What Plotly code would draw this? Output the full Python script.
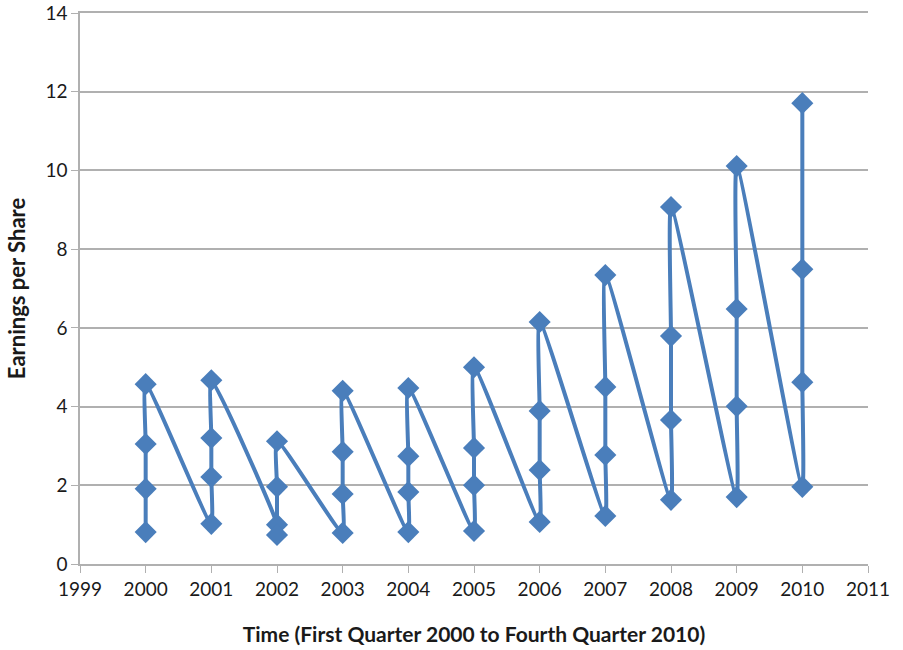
import plotly.graph_objects as go

years = [2000, 2001, 2002, 2003, 2004, 2005, 2006, 2007, 2008, 2009, 2010]
q1 = [0.81, 1.02, 1.00, 0.79, 0.81, 0.84, 1.07, 1.22, 1.63, 1.70, 1.96]
q2 = [1.91, 2.21, 0.74, 1.78, 1.83, 2.00, 2.39, 2.77, 3.66, 4.01, 4.62]
q3 = [3.05, 3.20, 1.96, 2.85, 2.74, 2.95, 3.89, 4.50, 5.79, 6.48, 7.49]
q4 = [4.57, 4.67, 3.12, 4.40, 4.47, 5.00, 6.15, 7.34, 9.07, 10.11, 11.71]

x_tick_vals = list(range(1999, 2012))
y_tick_vals = list(range(0, 15, 2))

xs, ys = [], []
for i, yr in enumerate(years):
    for v in (q1[i], q2[i], q3[i], q4[i]):
        xs.append(yr)
        ys.append(v)

blue = "#4a7ebb"
grid = "#b0b0b0"
fig = go.Figure()
fig.add_trace(go.Scatter(
    x=xs, y=ys, mode="lines+markers",
    line=dict(color=blue, width=4, shape="spline", smoothing=0.5),
    marker=dict(symbol="diamond", size=17, color=blue),
    showlegend=False, cliponaxis=False,
))

font_family = "Lato, 'Open Sans', sans-serif"
fig.update_layout(
    width=903, height=650,
    margin=dict(l=80, r=35, t=13, b=86),
    paper_bgcolor="white", plot_bgcolor="white",
    font=dict(family=font_family, size=19, color="#1a1a1a"),
    xaxis=dict(
        range=[1999, 2011], tickvals=x_tick_vals, ticktext=[str(v) for v in x_tick_vals],
        showgrid=False, showline=True, linecolor=grid, linewidth=1.5, mirror=True,
        ticks="outside", ticklen=7, tickcolor=grid,
        tickfont=dict(size=19),
        title=dict(text="<b>Time (First Quarter 2000 to Fourth Quarter 2010)</b>",
                   font=dict(size=21), standoff=29),
        zeroline=False, automargin=False,
    ),
    yaxis=dict(
        range=[0, 14], tickvals=y_tick_vals,
        showgrid=True, gridcolor=grid, gridwidth=1.5,
        showline=True, linecolor=grid, linewidth=1.5,
        ticks="outside", ticklen=7, tickcolor=grid,
        tickfont=dict(size=19),
        title=dict(text="<b>Earnings per Share</b>", font=dict(size=22), standoff=14),
        zeroline=False, automargin=False,
    ),
)

fig.write_html("out.html", config={"displayModeBar": False},
               post_script="document.body.style.margin='0';")
